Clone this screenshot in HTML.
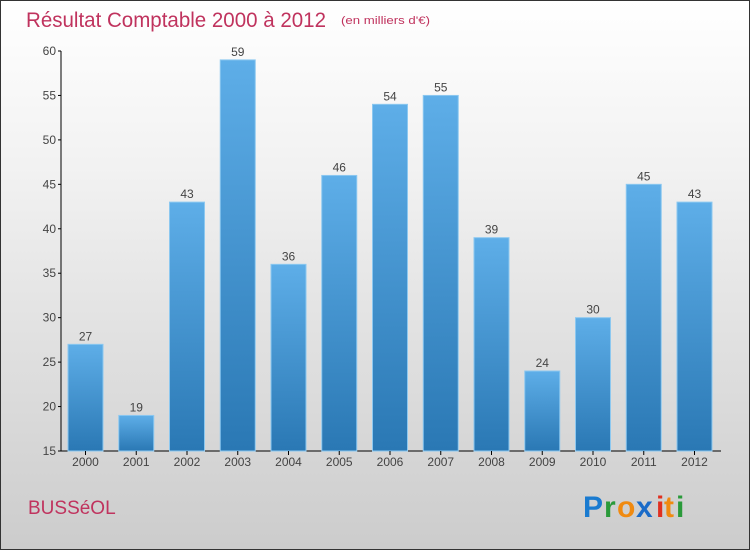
<!DOCTYPE html>
<html><head><meta charset="utf-8"><style>
body{margin:0}
#wrap{width:750px;height:550px;position:relative;box-sizing:border-box;border:1px solid #333;background:linear-gradient(#ffffff,#f2f2f2 30%,#cccccc);font-family:"Liberation Sans",sans-serif;overflow:hidden}
</style></head><body>
<div id="wrap">
<svg id="chart" width="750" height="550" style="position:absolute;left:-1px;top:-1px">
<defs><linearGradient id="bg" x1="0" y1="0" x2="0" y2="1"><stop offset="0" stop-color="#5eaee8"/><stop offset="1" stop-color="#2a78b4"/></linearGradient></defs>
<text x="26" y="27" font-size="21" fill="#c0335e" textLength="300" lengthAdjust="spacingAndGlyphs">Résultat Comptable 2000 à 2012</text>
<text x="341" y="24" font-size="11" fill="#c0335e" textLength="89" lengthAdjust="spacingAndGlyphs">(en milliers d'€)</text>
<text x="28" y="514" font-size="19" fill="#c0335e">BUSSéOL</text>
<g font-size="30" font-weight="bold" font-family="'Liberation Sans',sans-serif">
<text x="583" y="517" fill="#1a7bd0">P</text><text x="604" y="517" fill="#2a9a3a">r</text><text x="617" y="517" fill="#f08a10">o</text><text x="636" y="517" fill="#1a6bc8">x</text><text x="656" y="517" fill="#e03020">i</text><text x="664" y="517" fill="#f08a10">t</text><text x="676" y="517" fill="#2a9a3a">i</text>
</g>
<g id="plot"></g>
</svg>
</div>
<script>
const categories=["2000","2001","2002","2003","2004","2005","2006","2007","2008","2009","2010","2011","2012"];
const values=[27,19,43,59,36,46,54,55,39,24,30,45,43];
const yTicks=[15,20,25,30,35,40,45,50,55,60];
const NS="http://www.w3.org/2000/svg";
const g=document.getElementById('plot');
const y=v=>451-(v-15)*400/45;
const xc=i=>85.5+50.75*i;
function mk(t,a){const e=document.createElementNS(NS,t);for(const k in a)e.setAttribute(k,a[k]);g.appendChild(e);return e;}
let ax=mk('line',{x1:61,y1:51,x2:61,y2:451,stroke:'#000'});


let xa=mk('line',{x1:61,y1:451,x2:721,y2:451,stroke:'#000'});


yTicks.forEach(t=>{
 mk('line',{x1:58,y1:y(t),x2:61,y2:y(t),stroke:'#000'});
 const tx=mk('text',{x:56,y:y(t)+4,'text-anchor':'end','font-size':12,fill:'#444'});tx.textContent=t;
 
 
});
categories.forEach((c,i)=>{
 const v=values[i];
 const r=mk('rect',{x:xc(i)-17.5,y:y(v),width:35,height:451-y(v),fill:'url(#bg)',stroke:'#8cc8f0','stroke-width':1});
 
 
 const l=mk('text',{x:xc(i),y:y(v)-4,'text-anchor':'middle','font-size':12,fill:'#444'});l.textContent=v;
 
 
 mk('line',{x1:xc(i),y1:451,x2:xc(i),y2:455,stroke:'#000'});
 const xl=mk('text',{x:xc(i),y:466,'text-anchor':'middle','font-size':12,fill:'#444'});xl.textContent=c;
 
 
});
</script>
</body></html>
